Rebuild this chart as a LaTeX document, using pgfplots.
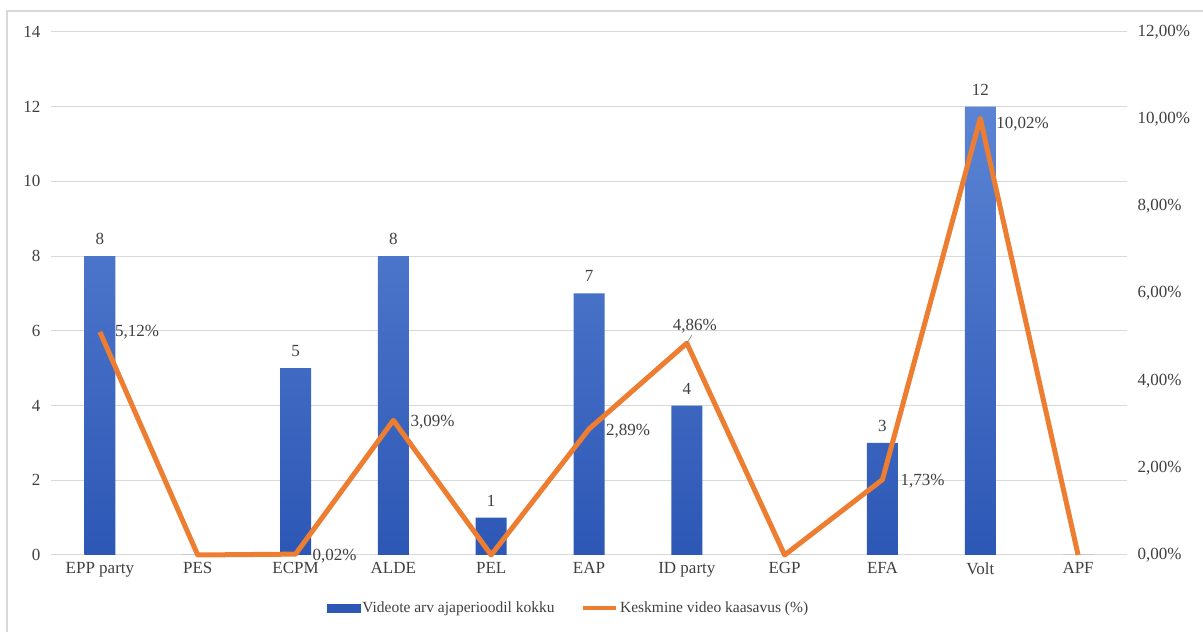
\documentclass[border=0pt]{standalone}
\usepackage{pgfplots}
\pgfplotsset{compat=1.18}
\usepackage{fontspec}
\setmainfont{Liberation Serif}
\definecolor{barTop}{HTML}{5B84D4}
\definecolor{barBot}{HTML}{2C57B5}
\definecolor{lineOr}{HTML}{ED7D31}
\definecolor{gridc}{HTML}{D9D9D9}
\definecolor{txt}{HTML}{404040}
\newcommand{\cf}{\fontsize{17bp}{20bp}\selectfont}
\newcommand{\lf}{\fontsize{15.5bp}{18bp}\selectfont}
\begin{document}
\begin{tikzpicture}[x=1bp,y=1bp]
\useasboundingbox (0,0) rectangle (1203,632);
\fill[white] (0,0) rectangle (1203,632);
\draw[gridc, line width=1.5bp] (7,-2) -- (7,621) -- (1205,621);
\begin{axis}[
  at={(51bp,77bp)}, anchor=south west, scale only axis,
  width=1076bp, height=523bp,
  xmin=-0.5, xmax=10.5, ymin=0, ymax=14,
  ytick={0,2,...,14},
  xtick={0,...,10},
  xticklabels={EPP party,PES,ECPM,ALDE,PEL,EAP,ID party,EGP,EFA,Volt,APF},
  axis line style={draw=none}, major tick style={draw=none},
  ymajorgrids, grid style={gridc, line width=1bp},
  tick label style={font=\cf, text=txt},
  /pgf/number format/assume math mode=true,
  yticklabel shift=7bp, xticklabel shift=4bp,
  axis y line*=left,
]
\addplot[ybar, bar width=31bp, draw=none, top color=barTop, bottom color=barBot,
  nodes near coords, point meta=explicit symbolic,
  every node near coord/.append style={font=\cf, text=txt, yshift=8bp}]
  coordinates {(0,8)[8] (1,0)[] (2,5)[5] (3,8)[8] (4,1)[1] (5,7)[7] (6,4)[4] (7,0)[] (8,3)[3] (9,12)[12] (10,0)[]};
\end{axis}
\begin{axis}[
  at={(51bp,77bp)}, anchor=south west, scale only axis,
  width=1076bp, height=523bp,
  xmin=-0.5, xmax=10.5, ymin=0, ymax=12,
  ytick={0,2,...,12},
  yticklabels={{0,00\%},{2,00\%},{4,00\%},{6,00\%},{8,00\%},{10,00\%},{12,00\%}},
  axis y line*=right, hide x axis,
  axis line style={draw=none}, major tick style={draw=none},
  tick label style={font=\cf, text=txt},
  yticklabel shift=7bp,
  legend columns=2,
  legend style={at={(0.481,-0.101)}, anchor=center, draw=none, font=\lf, text=txt,
    /tikz/every even column/.append style={column sep=24bp},
    /tikz/every odd column/.append style={column sep=0bp}},
  legend cell align=left,
  clip=false,
]
\addlegendimage{area legend, legend image code/.code={\fill[barBot] (0bp,-4bp) rectangle (33bp,4bp);}}
\addlegendentry{Videote arv ajaperioodil kokku}
\addplot[lineOr, line width=5bp, line join=round, mark=none,
  legend image code/.code={\draw[lineOr, line width=4.5bp] (0bp,0bp) -- (33bp,0bp);}]
  coordinates {(0,5.12) (1,0) (2,0.02) (3,3.09) (4,0) (5,2.89) (6,4.86) (7,0) (8,1.73) (9,10.02) (10,0)};
\addlegendentry{Keskmine video kaasavus (\%)}
\begin{scope}[every node/.style={font=\cf, text=txt, inner sep=2bp}]
\node[anchor=west] at ([xshift=13bp]axis cs:0,5.12) {5,12\%};
\node[anchor=west] at ([xshift=15bp,yshift=-2bp]axis cs:2,0.02) {0,02\%};
\node[anchor=west] at ([xshift=15bp,yshift=-2bp]axis cs:3,3.09) {3,09\%};
\node[anchor=west] at ([xshift=15bp,yshift=-2bp]axis cs:5,2.89) {2,89\%};
\draw[gray, line width=0.6bp] (axis cs:6,4.86) -- ([xshift=5bp,yshift=8bp]axis cs:6,4.86);
\node[anchor=south] at ([xshift=8bp,yshift=8bp]axis cs:6,4.86) {4,86\%};
\node[anchor=west] at ([xshift=16bp,yshift=-2bp]axis cs:8,1.73) {1,73\%};
\node[anchor=west] at ([xshift=14bp,yshift=-6bp]axis cs:9,10.02) {10,02\%};
\end{scope}
\end{axis}
\end{tikzpicture}
\end{document}
